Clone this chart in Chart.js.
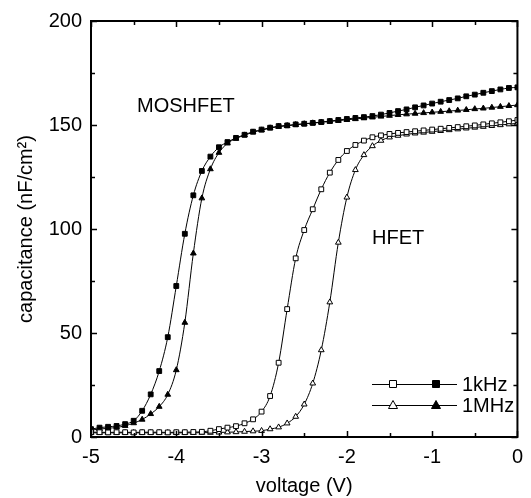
<!DOCTYPE html>
<html>
<head>
<meta charset="utf-8">
<script src="https://cdn.jsdelivr.net/npm/chart.js@4.4.1/dist/chart.umd.min.js"></script>
<style>
  html,body{margin:0;padding:0;background:#fff}
  #wrap{width:531px;height:498px}
</style>
</head>
<body>
<div id="wrap"><canvas id="cv" width="531" height="498"></canvas></div>
<script>
// C-V curves, MOSHFET vs HFET at 1kHz / 1MHz
const voltage = [-5.0,-4.9,-4.8,-4.7,-4.6,-4.5,-4.4,-4.3,-4.2,-4.1,
  -4.0,-3.9,-3.8,-3.7,-3.6,-3.5,-3.4,-3.3,-3.2,-3.1,
  -3.0,-2.9,-2.8,-2.7,-2.6,-2.5,-2.4,-2.3,-2.2,-2.1,
  -2.0,-1.9,-1.8,-1.7,-1.6,-1.5,-1.4,-1.3,-1.2,-1.1,
  -1.0,-0.9,-0.8,-0.7,-0.6,-0.5,-0.4,-0.3,-0.2,-0.1,0.0];

const mos1k = [3.8,4.5,4.9,5.3,6.2,7.8,12.6,20.5,31.7,48.0,
  72.6,97.7,116.2,127.9,134.8,139.3,141.8,143.8,145.3,146.8,
  147.8,148.7,149.5,149.8,150.3,150.6,151.0,151.4,151.9,152.4,
  152.9,153.4,153.8,154.3,155.0,155.8,156.7,157.5,158.5,159.4,
  160.3,161.2,162.0,162.8,163.8,164.6,165.5,166.3,167.1,167.8,168.1];

const mos1M = [3.3,3.8,4.2,4.6,5.4,6.7,8.4,11.1,14.6,20.4,
  32.2,55.0,88.3,114.8,128.8,136.7,141.2,143.5,145.1,146.5,
  147.5,148.5,149.2,149.6,150.1,150.5,150.9,151.3,151.7,152.1,
  152.5,152.9,153.3,153.7,154.1,154.5,154.9,155.2,155.5,155.8,
  156.1,156.4,156.7,157.0,157.3,157.7,158.0,158.4,158.8,159.2,159.6];

const hfet1k = [2.3,2.3,2.2,2.3,2.3,2.2,2.3,2.3,2.3,2.2,
  2.3,2.3,2.4,2.5,3.0,3.8,4.5,5.2,6.6,8.5,
  12.2,19.7,35.7,61.5,85.9,99.5,109.5,119.1,127.1,133.2,
  137.5,140.4,142.5,144.1,145.0,145.7,146.2,146.6,147.0,147.4,
  147.8,148.2,148.6,149.0,149.4,149.8,150.3,150.8,151.3,151.8,152.4];

const hfet1M = [2.0,2.0,2.0,2.0,2.0,2.0,2.0,2.0,2.0,2.0,
  2.0,2.0,2.0,2.1,2.1,2.2,2.3,2.4,2.6,2.8,
  3.0,3.8,4.7,6.6,9.8,15.7,25.8,41.8,64.8,93.5,
  115.2,128.4,135.6,139.9,142.5,144.1,144.9,145.5,146.0,146.4,
  146.8,147.2,147.6,148.0,148.4,148.8,149.2,149.6,150.0,150.4,150.8];

const xTickMarks = [-5,-4.5,-4,-3.5,-3,-2.5,-2,-1.5,-1,-0.5,0];
const yTickMarks = [0,25,50,75,100,125,150,175,200];

const FONT = 'Liberation Sans, Arial, sans-serif';

function pts(ys){ return voltage.map((v,i)=>({x:v, y:ys[i]})); }

function series(label, ys, style, filled){
  return {
    label, data: pts(ys),
    borderColor:'#000', borderWidth:1,
    backgroundColor: filled ? '#000' : '#fff',
    pointStyle: style, pointRadius: style==='rect' ? 3.4 : 3.3,
    pointBorderColor:'#000', pointBackgroundColor: filled ? '#000' : '#fff',
    pointBorderWidth:1,
    cubicInterpolationMode:'monotone', fill:false
  };
}

// frame, inward ticks, labels and the two-row legend
const decor = {
  id:'decor',
  afterDraw(chart){
    const {ctx, chartArea:a, scales:{x,y}} = chart;
    ctx.save();
    ctx.strokeStyle = '#000';
    ctx.lineWidth = 1.5;
    xTickMarks.forEach(v=>{
      const px = Math.round(x.getPixelForValue(v))+0.5;
      const len = Number.isInteger(v) ? 6 : 4;
      ctx.beginPath();
      ctx.moveTo(px, a.bottom); ctx.lineTo(px, a.bottom-len);
      ctx.moveTo(px, a.top); ctx.lineTo(px, a.top+len);
      ctx.stroke();
    });
    yTickMarks.forEach(v=>{
      const py = Math.round(y.getPixelForValue(v))+0.5;
      const len = v%50===0 ? 6 : 4;
      ctx.beginPath();
      ctx.moveTo(a.left, py); ctx.lineTo(a.left+len, py);
      ctx.moveTo(a.right, py); ctx.lineTo(a.right-len, py);
      ctx.stroke();
    });
    ctx.lineWidth = 2;
    ctx.strokeRect(a.left, a.top, a.right-a.left, a.bottom-a.top);

    ctx.fillStyle = '#000';
    ctx.font = '20px ' + FONT;
    ctx.textBaseline = 'middle';
    ctx.textAlign = 'left';
    ctx.fillText('MOSHFET', 137, 106);
    ctx.fillText('HFET', 372, 238);

    // legend
    const rows = [
      {y:384, style:'rect', text:'1kHz'},
      {y:405, style:'triangle', text:'1MHz'}
    ];
    rows.forEach(r=>{
      ctx.lineWidth = 1;
      ctx.beginPath(); ctx.moveTo(372, r.y+0.5); ctx.lineTo(457, r.y+0.5); ctx.stroke();
      [[393, false],[436, true]].forEach(([mx, filled])=>{
        ctx.beginPath();
        if (r.style==='rect') {
          ctx.rect(mx-3.5, r.y-3.5, 7, 7);
        } else {
          ctx.moveTo(mx, r.y-4.5); ctx.lineTo(mx+4.5, r.y+3.5); ctx.lineTo(mx-4.5, r.y+3.5); ctx.closePath();
        }
        ctx.fillStyle = filled ? '#000' : '#fff';
        ctx.fill(); ctx.stroke();
      });
      ctx.fillStyle = '#000';
      ctx.fillText(r.text, 462, r.y+1);
    });
    ctx.restore();
  }
};

new Chart(document.getElementById('cv'), {
  type:'line',
  data:{ datasets:[
    series('HFET 1kHz', hfet1k, 'rect', false),
    series('HFET 1MHz', hfet1M, 'triangle', false),
    series('MOSHFET 1MHz', mos1M, 'triangle', true),
    series('MOSHFET 1kHz', mos1k, 'rect', true)
  ]},
  options:{
    responsive:false, animation:false,
    layout:{ padding:{ top:21, right:9, left:0, bottom:0 } },
    plugins:{ legend:{display:false}, tooltip:{enabled:false} },
    scales:{
      x:{
        type:'linear', min:-5, max:0,
        grid:{display:false, drawTicks:false}, border:{display:false},
        ticks:{ stepSize:1, color:'#000', padding:8, font:{family:FONT, size:20} },
        title:{ display:true, text:'voltage (V)', color:'#000', padding:{top:0,bottom:0}, font:{family:FONT, size:20} },
        afterFit(s){ s.height = 61; }
      },
      y:{
        min:0, max:200,
        grid:{display:false, drawTicks:false}, border:{display:false},
        ticks:{ stepSize:50, color:'#000', padding:9, font:{family:FONT, size:20} },
        title:{ display:true, text:'capacitance (nF/cm²)', color:'#000', padding:{top:14,bottom:0}, font:{family:FONT, size:20} },
        afterFit(s){ s.width = 91; }
      }
    }
  },
  plugins:[decor]
});
</script>
</body>
</html>
